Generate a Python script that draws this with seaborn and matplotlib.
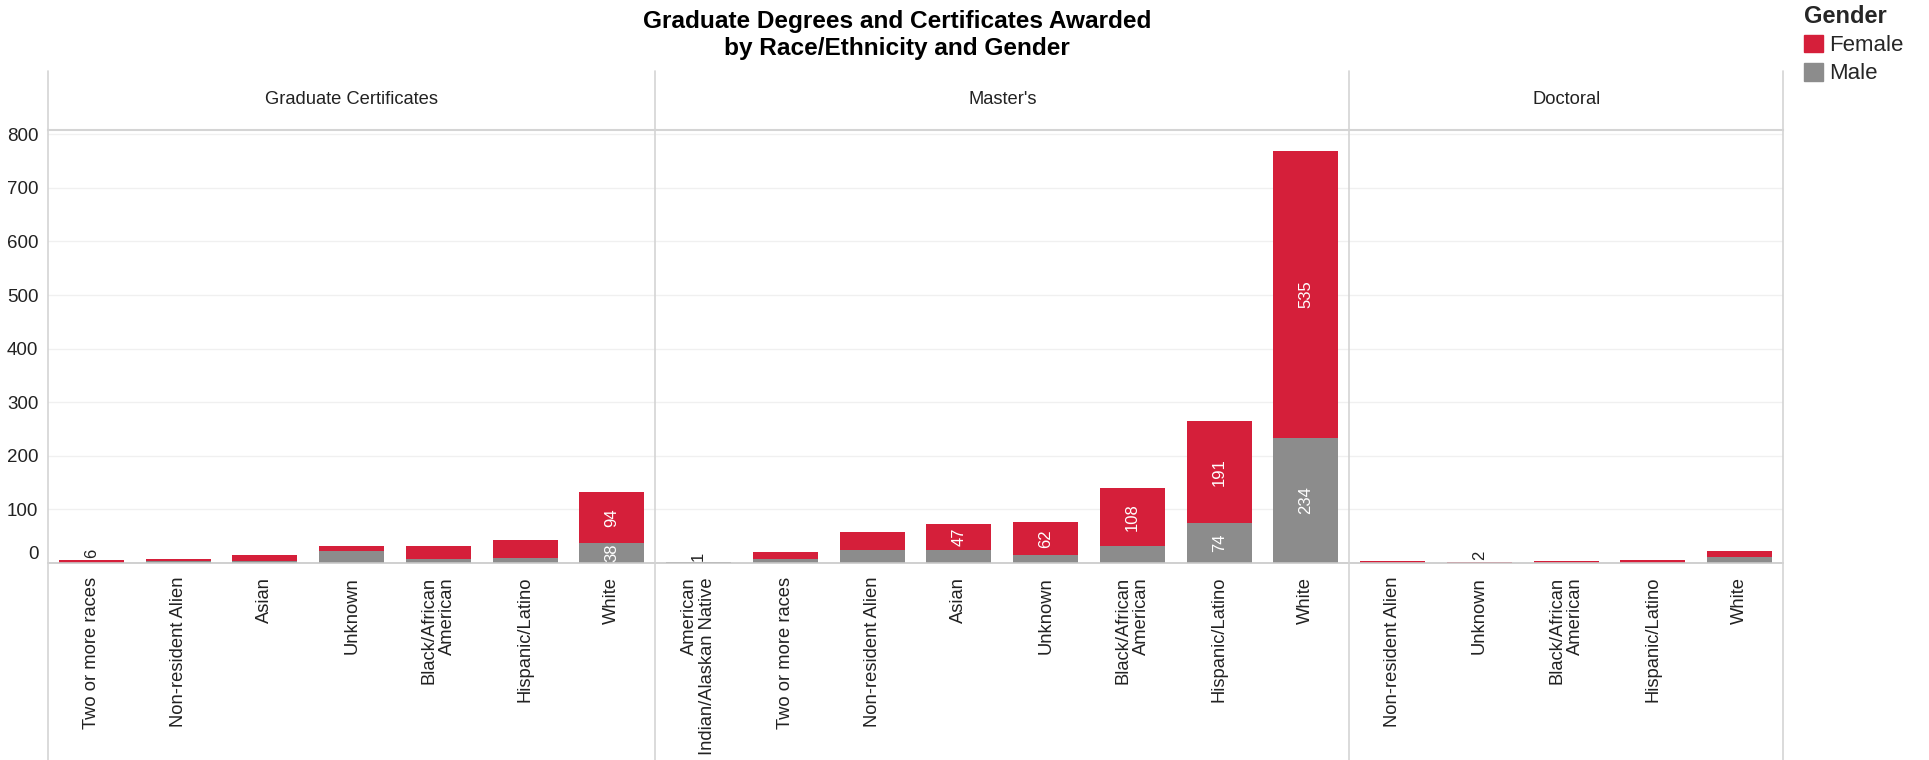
import pandas as pd
import matplotlib.pyplot as plt
import seaborn as sns
from matplotlib.lines import Line2D
from matplotlib.patches import Patch

# ---------------- data ----------------
gc_races = ['Two or more races', 'Non-resident Alien', 'Asian', 'Unknown',
            'Black/African\nAmerican', 'Hispanic/Latino', 'White']
gc_female = [6, 4, 11, 9, 24, 34, 94]
gc_male = [0, 4, 3, 22, 7, 9, 38]
gc_show_f = [1, 0, 0, 0, 0, 0, 1]
gc_show_m = [0, 0, 0, 0, 0, 0, 1]

ms_races = ['American\nIndian/Alaskan Native', 'Two or more races', 'Non-resident Alien',
            'Asian', 'Unknown', 'Black/African\nAmerican', 'Hispanic/Latino', 'White']
ms_female = [0, 14, 32, 47, 62, 108, 191, 535]
ms_male = [1, 7, 25, 25, 15, 32, 74, 234]
ms_show_f = [0, 0, 0, 1, 1, 1, 1, 1]
ms_show_m = [1, 0, 0, 0, 0, 0, 1, 1]

doc_races = ['Non-resident Alien', 'Unknown', 'Black/African\nAmerican',
             'Hispanic/Latino', 'White']
doc_female = [3, 2, 3, 5, 12]
doc_male = [0, 0, 0, 0, 11]
doc_show_f = [0, 1, 0, 0, 0]
doc_show_m = [0, 0, 0, 0, 0]

panels = [
    ('Graduate Certificates', gc_races, gc_female, gc_male, gc_show_f, gc_show_m),
    ("Master's", ms_races, ms_female, ms_male, ms_show_f, ms_show_m),
    ('Doctoral', doc_races, doc_female, doc_male, doc_show_f, doc_show_m),
]

RED = '#D51F3A'
GREY = '#8C8C8C'
LINE = '#D4D4D4'
TXT = '#222222'

sns.set_style('white')
plt.rcParams['font.family'] = ['Liberation Sans', 'DejaVu Sans']

W, H = 1929, 760
fig = plt.figure(figsize=(W / 100, H / 100), dpi=100)

def fx(px):
    return px / W

def fy(py):
    return 1 - py / H

# layout in pixels
left, right = 48, 1783
top, base = 130, 563
unit = (right - left) / 20.0

x0 = left
for i, (name, races, fem, mal, show_f, show_m) in enumerate(panels):
    n = len(races)
    ax = fig.add_axes([fx(x0), fy(base), fx(n * unit), (base - top) / H])
    df = pd.DataFrame({'race': races, 'female': fem, 'male': mal})
    df['total'] = df['female'] + df['male']

    # stacked bars: total in red, male drawn over it in grey
    sns.barplot(data=df, x='race', y='total', order=races, color=RED,
                saturation=1, width=0.75, linewidth=0, ax=ax)
    sns.barplot(data=df, x='race', y='male', order=races, color=GREY,
                saturation=1, width=0.75, linewidth=0, ax=ax)

    ax.set_xlim(-0.5, n - 0.5)
    ax.set_ylim(0, 808)
    ax.set_yticks(range(0, 900, 100))
    ax.set_xlabel('')
    ax.set_ylabel('')
    ax.grid(axis='y', color='#F0F0F0', linewidth=1)
    ax.set_axisbelow(True)
    for s in ['left', 'right']:
        ax.spines[s].set_visible(False)
    ax.spines['top'].set_color(LINE)
    ax.spines['top'].set_linewidth(1.5)
    ax.spines['bottom'].set_color('#C8C8C8')
    ax.spines['bottom'].set_linewidth(1.2)

    ax.tick_params(axis='both', length=0)
    ax.set_xticks(range(n))
    ax.set_xticklabels(races, rotation=90, fontsize=13.2, color=TXT,
                       va='top', ha='center', multialignment='right',
                       linespacing=1.1)
    ax.tick_params(axis='x', pad=10)
    if i == 0:
        ax.tick_params(axis='y', labelsize=13.5, labelcolor=TXT, pad=7)
        ax.yaxis.get_major_ticks()[0].label1.set_va('bottom')
    else:
        ax.set_yticklabels([])

    # value labels
    for k in range(n):
        f, m = fem[k], mal[k]
        if show_m[k]:
            if m >= 25:
                ax.text(k, m / 2, str(m), rotation=90, ha='center', va='center',
                        color='white', fontsize=12)
            else:
                ax.text(k, m + f + 3, str(m), rotation=90, ha='center',
                        va='bottom', color=TXT, fontsize=12)
        if show_f[k]:
            if f >= 25:
                ax.text(k, m + f / 2, str(f), rotation=90, ha='center',
                        va='center', color='white', fontsize=12)
            else:
                ax.text(k, m + f + 3, str(f), rotation=90, ha='center',
                        va='bottom', color=TXT, fontsize=12)

    fig.text(fx(x0 + n * unit / 2), fy(100), name, ha='center', va='center',
             fontsize=13.2, color=TXT)
    x0 += n * unit

# panel separators and frame lines
xb = left
for n in [0, 7, 8, 5]:
    xb += n * unit
    fig.add_artist(Line2D([fx(xb), fx(xb)], [fy(71), fy(760)],
                          transform=fig.transFigure, color=LINE, linewidth=1.2))

# title
fig.text(fx(897), fy(35), 'Graduate Degrees and Certificates Awarded\nby Race/Ethnicity and Gender',
         ha='center', va='center', fontsize=17.6, fontweight='bold',
         linespacing=1.2, color='black')

# legend
handles = [Patch(color=RED, label='Female'), Patch(color=GREY, label='Male')]
leg = fig.legend(handles=handles, title='Gender', loc='upper left',
                 bbox_to_anchor=(fx(1804), fy(5)), frameon=False, fontsize=16,
                 title_fontsize=17, alignment='left', handlelength=0.85,
                 handleheight=0.85, handletextpad=0.3, labelspacing=0.3,
                 borderpad=0.0, borderaxespad=0)
leg.get_title().set_fontweight('bold')

fig.savefig('out.png', dpi=100, facecolor='white')
